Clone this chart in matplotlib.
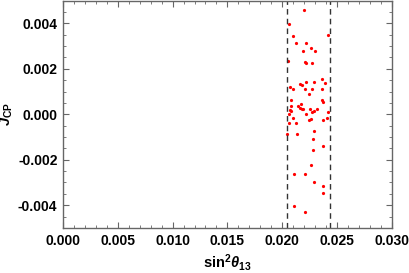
import numpy as np
import matplotlib
matplotlib.use('Agg')
import matplotlib.pyplot as plt
from matplotlib.ticker import MultipleLocator, FormatStrFormatter

plt.rcParams['font.family'] = 'Liberation Sans'
plt.rcParams['font.weight'] = 'bold'
plt.rcParams['mathtext.fontset'] = 'custom'
plt.rcParams['mathtext.rm'] = 'Liberation Sans:bold'
plt.rcParams['mathtext.it'] = 'Liberation Sans:bold:italic'
plt.rcParams['mathtext.bf'] = 'Liberation Sans:bold'
plt.rcParams['axes.unicode_minus'] = True

# scan points: sin^2 theta13 vs J_CP
s13 = [0.0220, 0.02063, 0.02422, 0.0210, 0.02124, 0.02215, 0.02264, 0.0219,
       0.02303, 0.02051, 0.02206, 0.0222, 0.02273, 0.02367, 0.0216, 0.02176,
       0.0222, 0.02294, 0.02394, 0.02072, 0.0210, 0.02206, 0.02273, 0.02361,
       0.02243, 0.02078, 0.02364, 0.02376, 0.02167, 0.02076, 0.02142, 0.02158,
       0.02176, 0.0219, 0.02318, 0.02069, 0.02081, 0.02252, 0.02288, 0.02276,
       0.02422, 0.02066, 0.0222, 0.0210, 0.02261, 0.02246, 0.0237, 0.02407,
       0.02063, 0.0213, 0.02288, 0.02048, 0.02133, 0.02282, 0.0237, 0.02285,
       0.02267, 0.02112, 0.02212, 0.02288, 0.02376, 0.02373, 0.02108, 0.02206]
jcp = [0.00458, 0.00396, 0.00347, 0.00342, 0.00313, 0.00313, 0.00292, 0.00276,
       0.00276, 0.00232, 0.00228, 0.00225, 0.00225, 0.00156, 0.00135, 0.00128,
       0.00144, 0.0014, 0.00137, 0.0012, 0.00111, 0.00111, 0.00111, 0.00111,
       0.00091, 0.00063, 0.00063, 0.00053, 0.00047, 0.00038, 0.00035, 0.00029,
       0.00021, 0.00021, 0.00025, 0.00018, 0.00013, 0.00021, 0.00015, 0.0001,
       0.0001, -0.00001, 0.00003, -0.00018, -0.00022, -0.00025, -0.00025, -0.00018,
       -0.00037, -0.00037, -0.00075, -0.00085, -0.00089, -0.0011, -0.00138, -0.00159,
       -0.00223, -0.00263, -0.00263, -0.00297, -0.00316, -0.00345, -0.00405, -0.00429]

# 3 sigma range
s13_range = [0.0204, 0.0244]

fig = plt.figure(figsize=(4.09, 2.73), dpi=100)
ax = fig.add_axes([0.154, 0.165, 0.804, 0.833])

ax.plot(s13, jcp, 'o', color='red', ms=2.3, mew=0)
for v in s13_range:
    ax.axvline(v, color='#333333', ls=(0, (4, 3)), lw=1.0)

ax.set_xlim(0, 0.030)
ax.set_ylim(-0.005, 0.005)
ax.xaxis.set_major_locator(MultipleLocator(0.005))
ax.xaxis.set_minor_locator(MultipleLocator(0.001))
ax.yaxis.set_major_locator(MultipleLocator(0.002))
ax.yaxis.set_minor_locator(MultipleLocator(0.0005))
ax.xaxis.set_major_formatter(FormatStrFormatter('%.3f'))
ax.yaxis.set_major_formatter(FormatStrFormatter('%.3f'))

for sp in ax.spines.values():
    sp.set_color('#666666')
    sp.set_linewidth(1.0)
ax.tick_params(which='both', direction='in', top=True, right=True,
               color='#666666', labelsize=10)
ax.tick_params(which='major', length=4, width=0.8, pad=4)
ax.tick_params(which='minor', length=2, width=0.6)
for lab in ax.get_xticklabels() + ax.get_yticklabels():
    lab.set_fontweight('bold')

ax.set_xlabel(r'sin$^2\theta_{13}$', fontsize=10.5, fontweight='bold', labelpad=3)
ax.set_ylabel(r'$J_{\mathrm{CP}}$', fontsize=10.5, labelpad=2)

fig.savefig('out.png', dpi=100)
